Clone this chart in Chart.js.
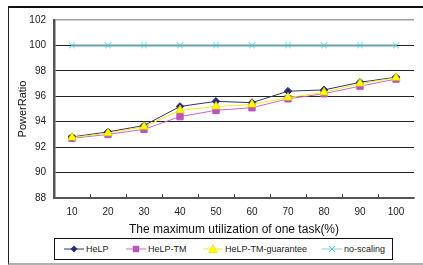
<!DOCTYPE html>
<html><head><meta charset="utf-8">
<script src="https://cdn.jsdelivr.net/npm/chart.js@4/dist/chart.umd.min.js"></script>
<style>
html,body{margin:0;padding:0;background:#fff;overflow:hidden;}
#wrap{position:relative;width:423px;height:265px;overflow:hidden;background:#fff;}
#frame{position:absolute;left:8px;top:6px;width:430px;height:255px;border-top:2px solid #111;border-left:1px solid #222;border-bottom:2px solid #b0b0b0;}
#c{position:absolute;left:0;top:0;}
#legend{position:absolute;left:54px;top:238px;width:337px;height:20px;border:1px solid #111;font:9px "Liberation Sans",Arial,sans-serif;color:#222;background:#fff;}
.item{position:absolute;top:0;height:20px;display:flex;align-items:center;white-space:nowrap;}
.item svg{margin-right:2px;}
</style></head><body>
<div id="wrap"><div id="frame"></div><canvas id="c" width="423" height="265"></canvas><div id="legend"></div></div>
<script>
const categories = ['10','20','30','40','50','60','70','80','90','100'];
const help = [92.8, 93.2, 93.7, 95.2, 95.6, 95.5, 96.4, 96.5, 97.1, 97.5];
const helpTM = [92.7, 93.0, 93.4, 94.4, 94.9, 95.1, 95.8, 96.2, 96.8, 97.35];
const helpTMGuarantee = [92.75, 93.1, 93.6, 94.9, 95.2, 95.35, 95.9, 96.3, 97.0, 97.45];
const noScaling = [100, 100, 100, 100, 100, 100, 100, 100, 100, 100];
const yTicks = [88, 90, 92, 94, 96, 98, 100, 102];
const seriesNames = ['HeLP', 'HeLP-TM', 'HeLP-TM-guarantee', 'no-scaling'];

const innerTicks = {
  id: 'innerTicks',
  afterDraw(chart) {
    const xs = chart.scales.x, ctx = chart.ctx, b = chart.chartArea.bottom;
    ctx.save();
    ctx.strokeStyle = '#444';
    ctx.lineWidth = 1;
    for (let i = 1; i < categories.length; i++) {
      const px = Math.round((xs.getPixelForValue(i - 1) + xs.getPixelForValue(i)) / 2) + 0.5;
      ctx.beginPath();
      ctx.moveTo(px, b);
      ctx.lineTo(px, b - 4);
      ctx.stroke();
    }
    ctx.restore();
  }
};

new Chart(document.getElementById('c'), {
  type: 'line',
  data: {
    labels: categories,
    datasets: [
      { label: seriesNames[0], data: help, order: 1, borderColor: '#333366', borderWidth: 1,
        pointStyle: 'rectRot', pointRadius: 3.8, pointBackgroundColor: '#2B2B70', pointBorderColor: '#2B2B70', pointBorderWidth: 1 },
      { label: seriesNames[1], data: helpTM, order: 2, borderColor: '#CC66CC', borderWidth: 1,
        pointStyle: 'rect', pointRadius: 4.5, pointBackgroundColor: '#BB55BB', pointBorderColor: '#BB55BB', pointBorderWidth: 1 },
      { label: seriesNames[2], data: helpTMGuarantee, order: 0, borderColor: '#EEEE22', borderWidth: 1,
        pointStyle: 'triangle', pointRadius: 5, pointBackgroundColor: '#FFFF00', pointBorderColor: '#D8D800', pointBorderWidth: 0.8 },
      { label: seriesNames[3], data: noScaling, order: 3, borderColor: '#66A3AA', borderWidth: 2,
        pointStyle: 'crossRot', pointRadius: 4, pointBackgroundColor: '#44CCDD', pointBorderColor: '#44CCDD', pointBorderWidth: 1 }
    ]
  },
  options: {
    responsive: false,
    devicePixelRatio: 1,
    animation: false,
    layout: { padding: { left: 10, top: 20, right: 9, bottom: 27 } },
    plugins: { legend: { display: false }, tooltip: { enabled: false } },
    elements: { line: { tension: 0 } },
    scales: {
      x: {
        type: 'category',
        offset: true,
        grid: {
          offset: true, drawTicks: false,
          color: (c) => c.index === categories.length ? '#a0a0a0' : 'rgba(0,0,0,0)',
          lineWidth: 1.5
        },
        border: { color: '#555', width: 2 },
        ticks: { padding: 8, color: '#222', font: { family: 'Liberation Sans', size: 10 }, maxRotation: 0 },
        title: { display: true, text: 'The maximum utilization of one task(%)', color: '#111',
          font: { family: 'Liberation Sans', size: 12 }, padding: { top: 0, bottom: 0.8 } },
        afterFit(s) { s.height = 40; }
      },
      y: {
        min: 88, max: 102,
        afterBuildTicks(s) { s.ticks = yTicks.map(v => ({ value: v })); },
        grid: {
          drawTicks: false,
          color: (c) => c.tick && c.tick.value === 102 ? '#a0a0a0' : '#222',
          lineWidth: (c) => c.tick && c.tick.value === 102 ? 1.5 : 1
        },
        border: { color: '#555', width: 2.5 },
        ticks: { padding: 8, color: '#222', font: { family: 'Liberation Sans', size: 10 } },
        title: { display: true, text: 'PowerRatio', color: '#111',
          font: { family: 'Liberation Sans', size: 11 }, padding: { top: 6.4, bottom: 0 } },
        afterFit(s) { s.width = 44; }
      }
    }
  },
  plugins: [innerTicks]
});

// HTML legend
const legendDefs = [
  { name: seriesNames[0], left: 9, line: '#333366', marker: '<polygon points="10,1.5 13.5,5 10,8.5 6.5,5" fill="#2B2B70"/>' },
  { name: seriesNames[1], left: 71, line: '#CC66CC', marker: '<rect x="6.8" y="1.8" width="6.4" height="6.4" fill="#BB55BB"/>' },
  { name: seriesNames[2], left: 148, line: '#EEEE22', marker: '<polygon points="10,0.5 14.3,8.5 5.7,8.5" fill="#FFFF00" stroke="#D8D800" stroke-width="0.6"/>' },
  { name: seriesNames[3], left: 267, line: '#88CCD4', marker: '<path d="M7,2 L13,8 M13,2 L7,8" stroke="#44CCDD" stroke-width="1"/>' }
];
const lg = document.getElementById('legend');
legendDefs.forEach(d => {
  const el = document.createElement('div');
  el.className = 'item';
  el.style.left = d.left + 'px';
  el.innerHTML = '<svg width="20" height="10" viewBox="0 0 20 10"><line x1="0" y1="5" x2="20" y2="5" stroke="' + d.line + '" stroke-width="1"/>' + d.marker + '</svg><span>' + d.name + '</span>';
  lg.appendChild(el);
});
</script>
</body></html>
